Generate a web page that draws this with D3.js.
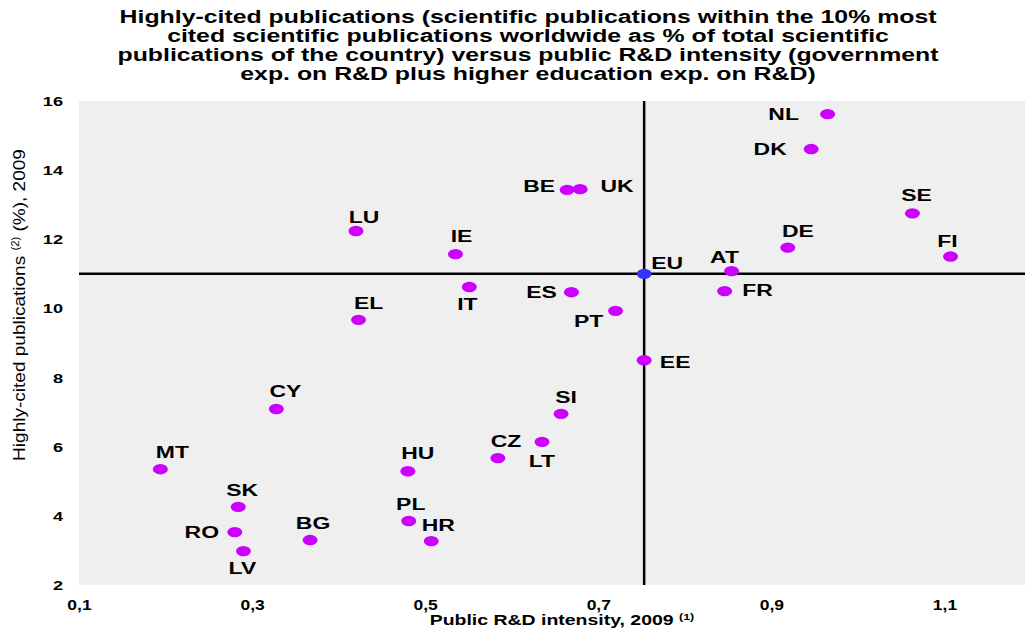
<!DOCTYPE html>
<html>
<head>
<meta charset="utf-8">
<script src="https://cdn.jsdelivr.net/npm/d3@7"></script>
<style>
  body { margin: 0; background: #fff; }
  svg text { font-family: "Liberation Sans", Arial, sans-serif; }
</style>
</head>
<body>
<svg id="chart" width="1025" height="630"></svg>
<script>
// data
var countries = ["NL", "DK", "BE", "UK", "SE", "LU", "DE", "IE", "FI", "AT", "EU", "IT", "FR", "ES", "PT", "EL", "EE",
  "CY", "SI", "CZ", "LT", "MT", "HU", "SK", "PL", "RO", "HR", "BG", "LV"];
var rdIntensity = [0.965, 0.946, 0.664, 0.679, 1.063, 0.420, 0.919, 0.535, 1.107, 0.854, 0.753, 0.551, 0.846, 0.669, 0.720, 0.423, 0.753,
  0.328, 0.657, 0.635, 0.584, 0.194, 0.480, 0.284, 0.481, 0.280, 0.507, 0.367, 0.290];
var highlyCited = [15.62, 14.61, 13.43, 13.45, 12.75, 12.24, 11.76, 11.57, 11.50, 11.08, 11.0, 10.62, 10.50, 10.47, 9.93, 9.67, 8.50,
  7.09, 6.95, 6.14, 5.67, 5.35, 5.29, 4.26, 3.85, 3.53, 3.27, 3.30, 2.98];
var xTicks = [0.1, 0.3, 0.5, 0.7, 0.9, 1.1];
var yTicks = [2, 4, 6, 8, 10, 12, 14, 16];

var titleLines = [
  "Highly-cited publications (scientific publications within the 10% most",
  "cited scientific publications worldwide as % of total scientific",
  "publications of the country) versus public R&D intensity (government",
  "exp. on R&D plus higher education exp. on R&D)"
];

// where each country label sits relative to its dot
var labelOffset = {
  NL: [-44, 0], DK: [-41, 0], BE: [-28, -4], UK: [37, -3], SE: [4, -18], LU: [8, -14],
  DE: [10, -17], IE: [6, -18], FI: [-3, -16], AT: [-7, -14], EU: [23, -11], IT: [-2, 17],
  FR: [33, -1], ES: [-30, 0], PT: [-27, 10], EL: [10, -17], EE: [31, 2], CY: [9, -18],
  SI: [5, -17], CZ: [-36, -1], LT: [44, 3], MT: [12, -17], HU: [10, -18], SK: [4, -17],
  PL: [2, -17], RO: [-33, 0], HR: [7, -16], BG: [3, -17], LV: [-1, 17]
};

var svg = d3.select("#chart");
var plotLeft = 79, plotTop = 101, plotBottom = 585, plotRight = 1031;

var x = d3.scaleLinear().domain([0.1, 1.2]).range([plotLeft, plotRight]);
var y = d3.scaleLinear().domain([2, 16]).range([plotBottom, plotTop]);
var fmt = function (d) { return d3.format(".1f")(d).replace(".", ","); };

svg.append("rect")
  .attr("x", plotLeft).attr("y", plotTop)
  .attr("width", plotRight - plotLeft).attr("height", plotBottom - plotTop)
  .attr("fill", "#efefef");

// title
var title = svg.append("g").attr("transform", "translate(528,0) scale(1.38,1)");
title.selectAll("text")
  .data(titleLines)
  .enter().append("text")
  .attr("x", 0)
  .attr("y", function (d, i) { return 23 + i * 19; })
  .attr("text-anchor", "middle")
  .attr("font-size", 18)
  .attr("font-weight", "bold")
  .attr("fill", "#000")
  .text(function (d) { return d; });

// axes (labels only)
var xAxis = svg.append("g")
  .attr("transform", "translate(0," + (plotBottom + 25) + ")")
  .call(d3.axisBottom(x).tickValues(xTicks).tickSize(0).tickPadding(0).tickFormat(fmt));
xAxis.select(".domain").remove();
xAxis.selectAll("text")
  .attr("font-family", "Liberation Sans, Arial, sans-serif")
  .attr("font-size", 14).attr("font-weight", "bold").attr("fill", "#000")
  .attr("y", 0).attr("dy", 0)
  .attr("transform", "scale(1.25,1)");

var yAxis = svg.append("g")
  .attr("transform", "translate(63,0)")
  .call(d3.axisLeft(y).tickValues(yTicks).tickSize(0).tickPadding(0));
yAxis.select(".domain").remove();
yAxis.selectAll("text")
  .attr("font-family", "Liberation Sans, Arial, sans-serif")
  .attr("font-size", 13).attr("font-weight", "bold").attr("fill", "#000")
  .attr("x", 0)
  .attr("transform", "scale(1.4,1)")
  .attr("dy", "0.35em");

// EU reference lines
var eu = countries.indexOf("EU");
svg.append("line")
  .attr("x1", plotLeft).attr("x2", plotRight)
  .attr("y1", y(highlyCited[eu])).attr("y2", y(highlyCited[eu]))
  .attr("stroke", "#000").attr("stroke-width", 2.5);
svg.append("line")
  .attr("x1", x(rdIntensity[eu])).attr("x2", x(rdIntensity[eu]))
  .attr("y1", plotTop).attr("y2", plotBottom)
  .attr("stroke", "#000").attr("stroke-width", 2.5);

// dots
var pts = countries.map(function (c, i) { return { c: c, v: rdIntensity[i], h: highlyCited[i] }; });
svg.append("g").selectAll("ellipse")
  .data(pts)
  .enter().append("ellipse")
  .attr("cx", function (d) { return x(d.v); })
  .attr("cy", function (d) { return y(d.h); })
  .attr("rx", 7.5).attr("ry", 5.2)
  .attr("fill", function (d) { return d.c == "EU" ? "#3333ff" : "#cc00ff"; });

// country labels
svg.append("g").selectAll("text")
  .data(pts)
  .enter().append("text")
  .attr("transform", function (d) {
    var o = labelOffset[d.c];
    return "translate(" + (x(d.v) + o[0]) + "," + (y(d.h) + o[1]) + ") scale(1.35,1)";
  })
  .attr("text-anchor", "middle")
  .attr("dy", "0.36em")
  .attr("font-size", 17)
  .attr("font-weight", "bold")
  .attr("fill", "#000")
  .text(function (d) { return d.c; });

// axis titles
var xt = svg.append("text")
  .attr("transform", "translate(562,625) scale(1.39,1)")
  .attr("text-anchor", "middle")
  .attr("font-size", 14).attr("font-weight", "bold");
xt.append("tspan").text("Public R&D intensity, 2009 ");
xt.append("tspan").attr("font-size", 9).attr("dy", -5).text("(1)");

var yt = svg.append("text")
  .attr("transform", "translate(25,305) rotate(-90) scale(1.12,1)")
  .attr("text-anchor", "middle")
  .attr("font-size", 17);
yt.append("tspan").text("Highly-cited publications ");
yt.append("tspan").attr("font-size", 10).attr("dy", -6).text("(2)");
yt.append("tspan").attr("dy", 6).text(" (%), 2009");
</script>
</body>
</html>
